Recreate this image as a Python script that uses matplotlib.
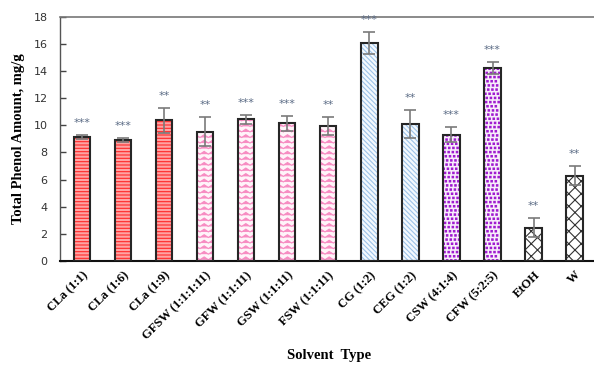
import warnings
warnings.filterwarnings("ignore")
import numpy as np
import matplotlib
matplotlib.use("Agg")
import matplotlib.pyplot as plt
import matplotlib.hatch as mhatch
from matplotlib.path import Path

categories = ['CLa (1:1)', 'CLa (1:6)', 'CLa (1:9)', 'GFSW (1:1:1:11)', 'GFW (1:1:11)',
              'GSW (1:1:11)', 'FSW (1:1:11)', 'CG (1:2)', 'CEG (1:2)', 'CSW (4:1:4)',
              'CFW (5:2:5)', 'EtOH', 'W']
values = [9.12, 8.90, 10.38, 9.54, 10.45, 10.15, 9.96, 16.05, 10.08, 9.32, 14.21, 2.46, 6.29]
errors = [0.15, 0.15, 0.93, 1.06, 0.34, 0.57, 0.64, 0.82, 1.03, 0.56, 0.44, 0.69, 0.69]
stars = ['***', '***', '**', '**', '***', '***', '**', '***', '**', '***', '***', '**', '**']
groups = ['red', 'red', 'red', 'pink', 'pink', 'pink', 'pink', 'blue', 'blue',
          'purple', 'purple', 'cross', 'cross']


class ZigZagHatch(mhatch.HatchPatternBase):
    def __init__(self, hatch, density):
        self.num_rows = int(hatch.count('z') * density)
        self.num_per = 12
        self.npts = 2 * self.num_per + 1
        self.num_vertices = self.num_rows * self.npts

    def set_vertices_and_codes(self, vertices, codes):
        if self.num_rows == 0:
            return
        step = 1.0 / self.num_rows
        xs = np.linspace(0, 1, self.npts)
        amp = 0.25 * step
        sign = np.where(np.arange(self.npts) % 2 == 0, -1.0, 1.0)
        for r in range(self.num_rows):
            y0 = (r + 0.5) * step
            sl = slice(r * self.npts, (r + 1) * self.npts)
            vertices[sl, 0] = xs
            vertices[sl, 1] = y0 + amp * sign
            codes[sl] = Path.LINETO
            codes[r * self.npts] = Path.MOVETO


class SquareDotHatch(mhatch.HatchPatternBase):
    def __init__(self, hatch, density):
        self.n = int(hatch.count('q') * density)
        self.num_vertices = self.n * self.n * 5

    def set_vertices_and_codes(self, vertices, codes):
        if self.n == 0:
            return
        step = 1.0 / self.n
        s = 0.17 * step
        k = 0
        for r in range(self.n):
            off = 0.5 * step if r % 2 else 0.0
            jit = 0.18 * step * ((r * 7) % 3 - 1)
            for c in range(self.n):
                cx = (c * step + off + jit) % 1.0
                cy = r * step + 0.5 * step
                sq = [(cx - s, cy - s), (cx + s, cy - s), (cx + s, cy + s), (cx - s, cy + s), (cx - s, cy - s)]
                vertices[k:k + 5] = sq
                codes[k] = Path.MOVETO
                codes[k + 1:k + 4] = Path.LINETO
                codes[k + 4] = Path.CLOSEPOLY
                k += 5


class CrossHatch(mhatch.HatchPatternBase):
    def __init__(self, hatch, density):
        self.num_lines = hatch.count('c') * 16
        self.num_vertices = (self.num_lines + 1) * 4 if self.num_lines else 0

    def set_vertices_and_codes(self, vertices, codes):
        if self.num_lines == 0:
            return
        steps = np.linspace(-0.5, 0.5, self.num_lines + 1)
        h = (self.num_lines + 1) * 2
        ne = vertices[:h]
        se = vertices[h:]
        ne[0::2, 0] = 0.0 + steps
        ne[0::2, 1] = 0.0 - steps
        ne[1::2, 0] = 1.0 + steps
        ne[1::2, 1] = 1.0 - steps
        se[0::2, 0] = 0.0 + steps
        se[0::2, 1] = 1.0 + steps
        se[1::2, 0] = 1.0 + steps
        se[1::2, 1] = 0.0 + steps
        codes[0::2] = Path.MOVETO
        codes[1::2] = Path.LINETO


mhatch._hatch_types.append(ZigZagHatch)
mhatch._hatch_types.append(SquareDotHatch)
mhatch._hatch_types.append(CrossHatch)

styles = {
    'red': dict(face='#ffa3a3', hatchc='#ff2a2a', hatch='-----'),
    'pink': dict(face='#fff4f9', hatchc='#f78cc2', hatch='zzz'),
    'blue': dict(face='#f4f9fe', hatchc='#9cc2e8', hatch='\\\\\\\\\\\\\\'),
    'purple': dict(face='#f8eefb', hatchc='#a01ad0', hatch='qqqq'),
    'cross': dict(face='white', hatchc='#333333', hatch='c'),
}

plt.rcParams['hatch.linewidth'] = 0.8
fig = plt.figure(figsize=(5.94, 3.67), dpi=100)
ax = fig.add_axes([0.101, 0.289, 0.899, 0.665])

x = np.arange(len(categories))
w = 0.4
for i, g in enumerate(groups):
    st = styles[g]
    ax.bar(x[i], values[i], width=w, color=st['face'], edgecolor=st['hatchc'],
           hatch=st['hatch'], linewidth=0, zorder=2)
ax.bar(x, values, width=w, fill=False, edgecolor='#262626', linewidth=1.5, zorder=3)
ax.errorbar(x, values, yerr=errors, fmt='none', ecolor='#7a7a7a', elinewidth=1.2,
            capsize=4.3, capthick=1.2, zorder=4)

for i in range(len(x)):
    ax.annotate(stars[i], (x[i], values[i] + errors[i]), xytext=(0, 5),
                textcoords='offset points', ha='center', va='bottom',
                fontsize=8, color='#5b6b85', family='DejaVu Sans')

ax.set_xlim(-0.53, 12.47)
ax.set_ylim(0, 18)
ax.set_yticks(np.arange(0, 19, 2))
ax.set_xticks(x)
ax.set_xticklabels(categories, rotation=45, ha='right', rotation_mode='anchor',
                   fontsize=9, fontweight='bold', family='Liberation Serif')
ax.tick_params(axis='x', length=0, pad=6)
ax.tick_params(axis='y', direction='in', length=4, width=1, color='#444444',
               labelsize=8, labelcolor='#333333', pad=9)
for lab in ax.get_yticklabels():
    lab.set_family('DejaVu Sans')

ax.spines['right'].set_visible(False)
ax.spines['top'].set_color('#777777')
ax.spines['top'].set_linewidth(1.2)
ax.spines['left'].set_color('#555555')
ax.spines['left'].set_linewidth(1.0)
ax.spines['bottom'].set_color('#111111')
ax.spines['bottom'].set_linewidth(1.5)

ax.set_ylabel('Total Phenol Amount, mg/g', fontsize=10.5, fontweight='bold',
              family='Liberation Serif', labelpad=6)
fig.text(0.554, 0.03, 'Solvent  Type', fontsize=10.5, fontweight='bold',
         family='Liberation Serif', ha='center', va='center')

fig.savefig('out.png', dpi=100)
